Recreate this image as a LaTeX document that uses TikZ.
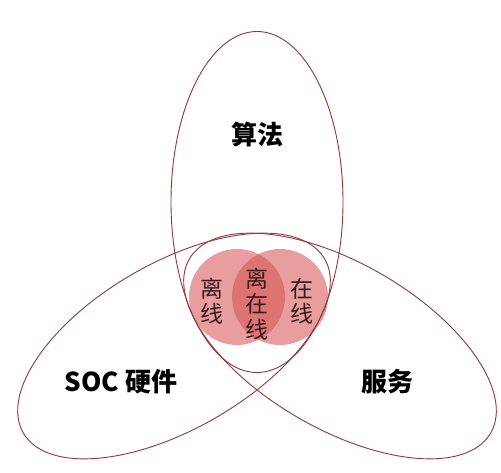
\documentclass[tikz,border=0pt]{standalone}
\usepackage{fontspec}
\newfontfamily\cjk{Noto Sans CJK SC}
\definecolor{petalc}{RGB}{145,55,55}
\definecolor{blobc}{RGB}{214,80,80}
\definecolor{inktext}{RGB}{55,25,25}
\begin{document}
\begin{tikzpicture}[x=1pt,y=1pt,
  petal/.style={draw=petalc, line width=0.9pt},
  blob/.style={circle, fill=blobc, fill opacity=0.55, minimum size=96pt, inner sep=0pt},
  big/.style={font=\cjk\bfseries\fontsize{26}{30}\selectfont, text=black, inner sep=0pt},
  small/.style={font=\cjk\fontsize{23}{25.5}\selectfont, align=center, text=inktext, inner sep=0pt}]
\useasboundingbox (0,0) rectangle (501,472);
\fill[white] (0,0) rectangle (501,472);
\node[blob] (off) at (237,175) {};
\node[blob] (on) at (280,175) {};
\draw[petal] (257,270) ellipse [x radius=86pt, y radius=170.5pt];
\draw[petal, rotate around={30:(174,126)}] (174,126) ellipse [x radius=174pt, y radius=83pt];
\draw[petal, rotate around={-30:(340,126)}] (340,126) ellipse [x radius=174pt, y radius=83pt];
\node[big] (alg) at (257,338) {算法};
\node[big] (soc) at (121,90) {SOC 硬件};
\node[big] (svc) at (387,90) {服务};
\node[small] (offl) at (212,171) {离\\线};
\node[small] (both) at (257,168) {离\\在\\线};
\node[small] (onl) at (302,171) {在\\线};
\end{tikzpicture}
\end{document}
